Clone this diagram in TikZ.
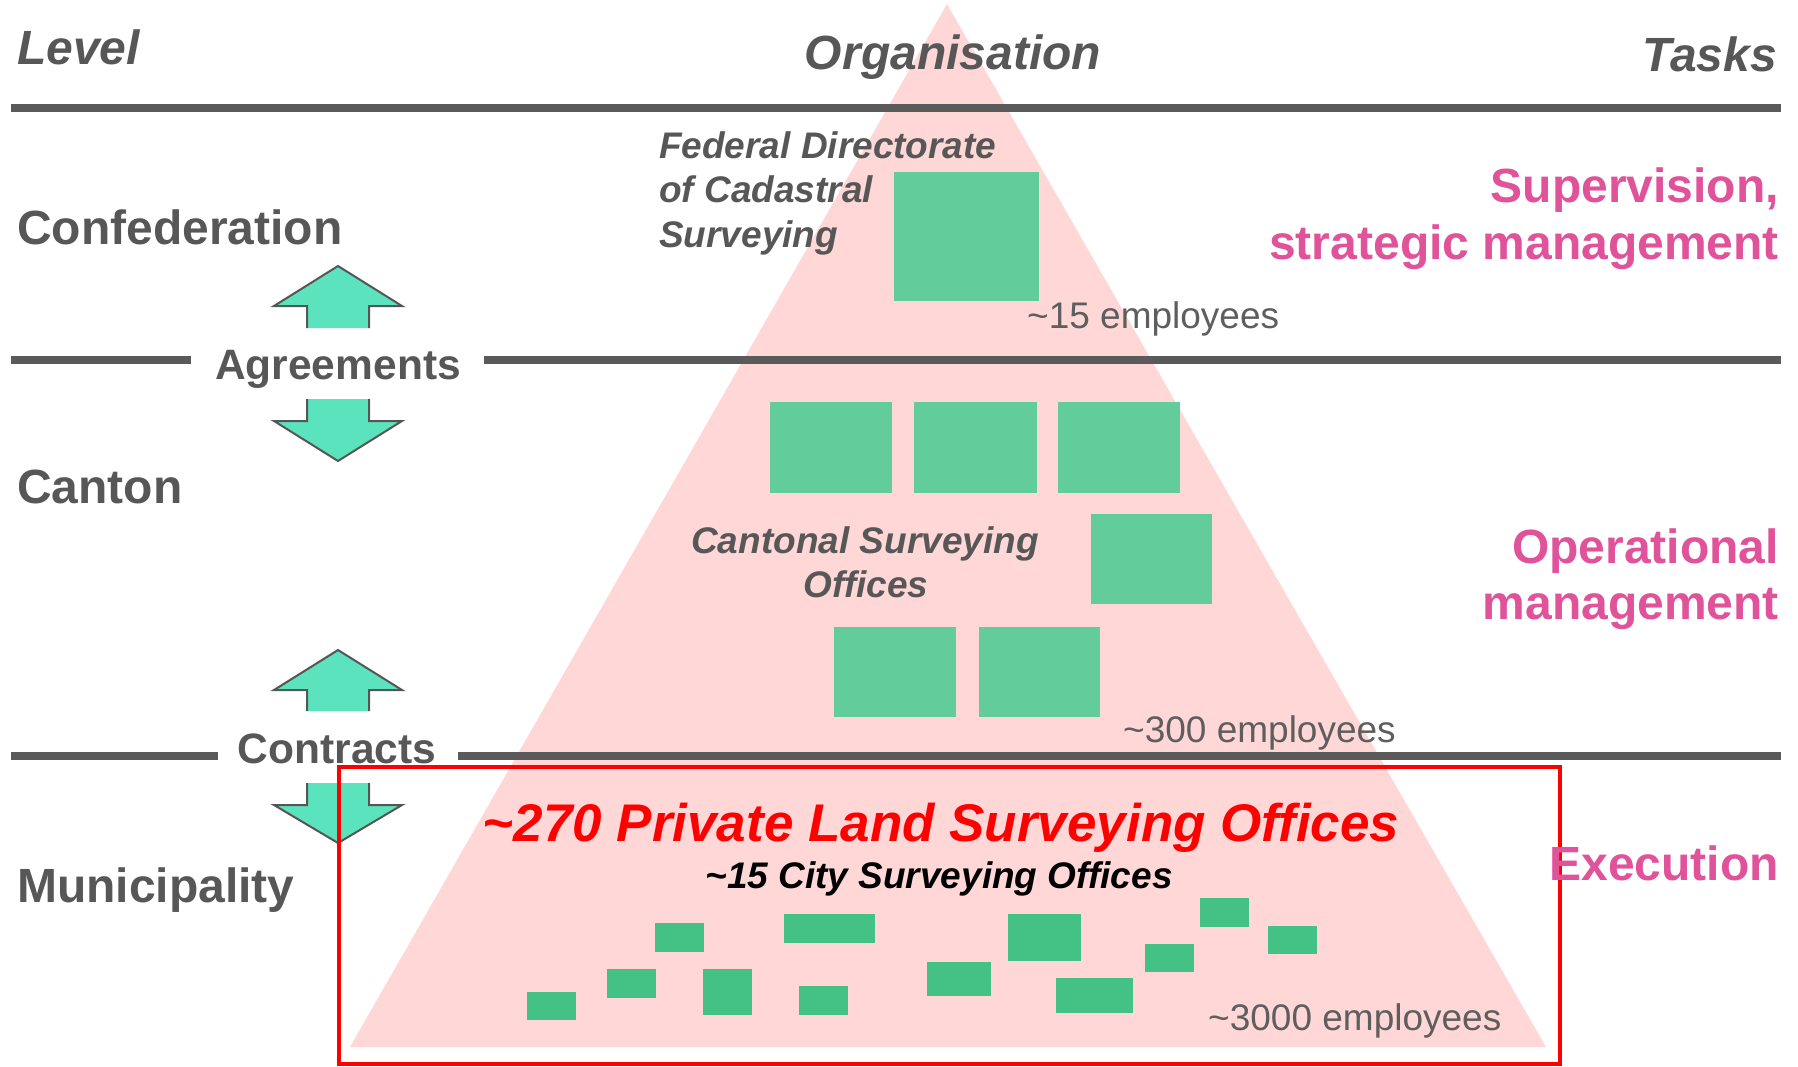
\documentclass[tikz,border=0pt]{standalone}
\usepackage{fontspec}
\setmainfont{Liberation Sans}
\definecolor{txtgray}{HTML}{575757}
\definecolor{empgray}{HTML}{5E5E5E}
\definecolor{linegray}{HTML}{5A5A5A}
\definecolor{taskpink}{HTML}{E0529A}
\definecolor{pyrpink}{HTML}{FFD7D7}
\definecolor{boxgreen}{HTML}{62CC9B}
\definecolor{solidgreen}{HTML}{44C184}
\definecolor{arrowfill}{HTML}{5BE3BD}
\definecolor{arrowline}{HTML}{555555}
\definecolor{framered}{HTML}{FF0000}
\tikzset{
  lvl/.style={font=\fontsize{48}{56}\selectfont\bfseries, text=txtgray, inner sep=0pt, anchor=base west},
  hdr/.style={font=\fontsize{48}{56}\selectfont\bfseries\itshape, text=txtgray, inner sep=0pt},
  mid/.style={font=\fontsize{42.5}{50}\selectfont\bfseries, text=txtgray, inner sep=0pt, anchor=base},
  org/.style={font=\fontsize{37}{44}\selectfont\bfseries\itshape, text=txtgray, inner sep=0pt},
  emp/.style={font=\fontsize{37}{44}\selectfont, text=empgray, inner sep=0pt, anchor=base west},
  task/.style={font=\fontsize{48}{56}\selectfont\bfseries, text=taskpink, inner sep=0pt, anchor=base east},
  sepline/.style={line width=7.5pt, draw=linegray},
  office/.style={fill=boxgreen},
  privoffice/.style={fill=solidgreen},
  blockfill/.style={fill=arrowfill},
  blockedge/.style={draw=arrowline, line width=2pt, line join=miter},
}
\begin{document}
\begin{tikzpicture}[x=1pt,y=-1pt]
\useasboundingbox (0,0) rectangle (1798,1067);

% pyramid
\fill[pyrpink] (947,4) -- (1546,1047) -- (350,1047) -- cycle;

% separator lines
\draw[sepline] (11,108) -- (1781,108);
\draw[sepline] (11,360) -- (191,360);
\draw[sepline] (484,360) -- (1781,360);
\draw[sepline] (11,756) -- (218,756);
\draw[sepline] (458,756) -- (1781,756);

% headers
\node[hdr, anchor=base west] (level) at (17,65) {Level};
\node[hdr, anchor=base] (organisation) at (953,70) {Organisation};
\node[hdr, anchor=base east] (tasks) at (1777,72) {Tasks};

% level names
\node[lvl] (confed) at (17,245) {Confederation};
\node[lvl] (canton) at (17,503) {Canton};
\node[lvl] (munic) at (17,902) {Municipality};
\node[mid] (agree) at (338,379) {Agreements};
\node[mid] (contr) at (337,763) {Contracts};

% block arrows (Agreements)
\fill[blockfill] (307,328) -- (307,306) -- (274,306) -- (338,266) -- (402,306) -- (369,306) -- (369,328) -- cycle;
\draw[blockedge] (307,328) -- (307,306) -- (274,306) -- (338,266) -- (402,306) -- (369,306) -- (369,328);
\fill[blockfill] (307,399) -- (307,421) -- (274,421) -- (338,461) -- (402,421) -- (369,421) -- (369,399) -- cycle;
\draw[blockedge] (307,399) -- (307,421) -- (274,421) -- (338,461) -- (402,421) -- (369,421) -- (369,399);
% block arrows (Contracts)
\fill[blockfill] (307,711) -- (307,690) -- (274,690) -- (338,650) -- (402,690) -- (369,690) -- (369,711) -- cycle;
\draw[blockedge] (307,711) -- (307,690) -- (274,690) -- (338,650) -- (402,690) -- (369,690) -- (369,711);
\fill[blockfill] (307,783) -- (307,805) -- (274,805) -- (338,843) -- (402,805) -- (369,805) -- (369,783) -- cycle;
\draw[blockedge] (307,783) -- (307,805) -- (274,805) -- (338,843) -- (402,805) -- (369,805) -- (369,783);

% federal level
\node[org, anchor=base west] (fed1) at (659,159) {Federal Directorate};
\node[org, anchor=base west] (fed2) at (659,203) {of Cadastral};
\node[org, anchor=base west] (fed3) at (659,248) {Surveying};
\fill[office] (894,172) rectangle (1039,301);
\node[emp] (emp15) at (1027,328) {\char`\~15 employees};

% cantonal level
\fill[office] (770,402) rectangle (892,493);
\fill[office] (914,402) rectangle (1037,493);
\fill[office] (1058,402) rectangle (1180,493);
\fill[office] (1091,514) rectangle (1212,604);
\fill[office] (834,627) rectangle (956,717);
\fill[office] (979,627) rectangle (1100,717);
\node[org, anchor=base] (cant1) at (865,553) {Cantonal Surveying};
\node[org, anchor=base] (cant2) at (866,597) {Offices};
\node[emp] (emp300) at (1123,742) {\char`\~300 employees};

% municipal level
\node[font=\fontsize{53}{60}\selectfont\bfseries\itshape, text=framered, inner sep=0pt, anchor=base] (private) at (941,841) {\char`\~270 Private Land Surveying Offices};
\node[org, text=black, anchor=base] (city) at (939,888) {\char`\~15 City Surveying Offices};
\fill[privoffice] (655,923) rectangle (704,952);
\fill[privoffice] (784,914) rectangle (875,943);
\fill[privoffice] (1008,914) rectangle (1081,961);
\fill[privoffice] (1200,898) rectangle (1249,927);
\fill[privoffice] (1268,926) rectangle (1317,954);
\fill[privoffice] (1145,944) rectangle (1194,972);
\fill[privoffice] (927,962) rectangle (991,996);
\fill[privoffice] (1056,978) rectangle (1133,1013);
\fill[privoffice] (799,986) rectangle (848,1015);
\fill[privoffice] (703,969) rectangle (752,1015);
\fill[privoffice] (607,969) rectangle (656,998);
\fill[privoffice] (527,992) rectangle (576,1020);
\node[emp] (emp3000) at (1208,1030) {\char`\~3000 employees};

% red frame
\draw[draw=framered, line width=4.5pt] (339,767) rectangle (1560,1064);

% tasks
\node[task] (sup1) at (1779,203) {Supervision,};
\node[task] (sup2) at (1779,259) {strategic management};
\node[task] (op1) at (1779,563) {Operational};
\node[task] (op2) at (1779,619) {management};
\node[task] (exe) at (1779,880) {Execution};
\end{tikzpicture}
\end{document}
